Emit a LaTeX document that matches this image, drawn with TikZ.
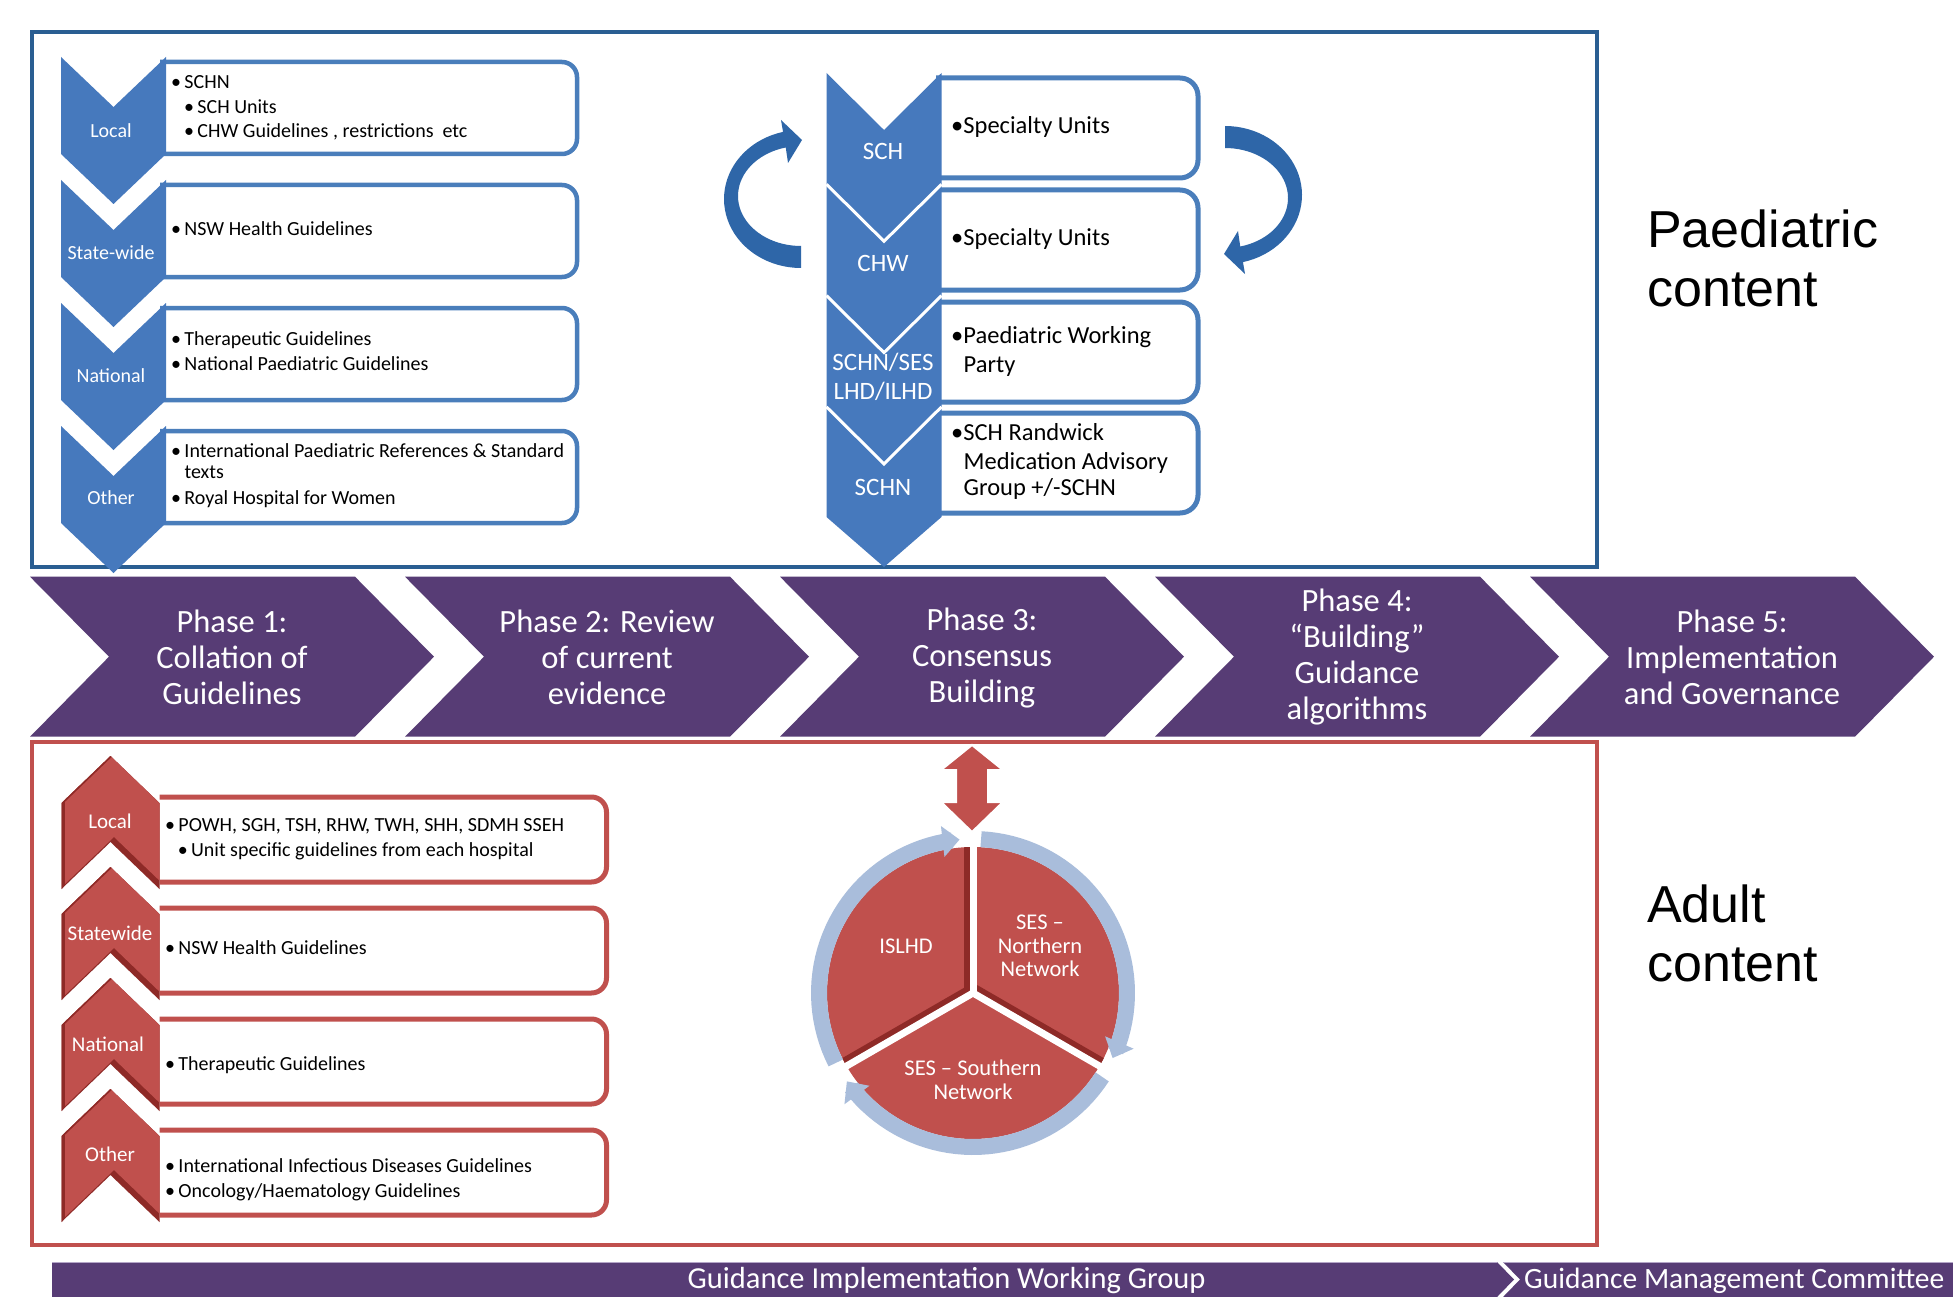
\documentclass[tikz,border=0pt]{standalone}
\usepackage{fontspec}
\setmainfont{Carlito}
\newfontfamily\arialf{Liberation Sans}
\usetikzlibrary{arrows.meta,calc}
\definecolor{chevblue}{HTML}{4679BD}
\definecolor{boxblue}{HTML}{4A7EBB}
\definecolor{frameblue}{HTML}{2A5E92}
\definecolor{arrowblue}{HTML}{2E66A8}
\definecolor{phasepurple}{HTML}{573C75}
\definecolor{adred}{HTML}{C0504D}
\definecolor{darkred}{HTML}{8E2A27}
\definecolor{ringblue}{HTML}{A9BDDB}
\definecolor{bandline}{HTML}{B4A6C8}
\newcommand\myfs[2]{\fontsize{#1}{#2}\selectfont}
\begin{document}
\begin{tikzpicture}[x=1pt,y=-1pt,
  lbox/.style={draw=boxblue,line width=4.5pt,fill=white,rounded corners=15pt},
  cbox/.style={draw=boxblue,line width=5pt,fill=white,rounded corners=18pt},
  rbox/.style={draw=adred,line width=5pt,fill=white,rounded corners=15pt},
  boxtxt/.style={anchor=base west,inner sep=0pt,font=\myfs{20}{24}},
  ctxt/.style={anchor=base west,inner sep=0pt,font=\myfs{24.5}{28}},
  chevlbl/.style={anchor=base,inner sep=0pt,text=white,font=\myfs{20}{24}},
  clbl/.style={anchor=base,inner sep=0pt,text=white,font=\myfs{25}{29}},
  rlbl/.style={anchor=base,inner sep=0pt,text=white,font=\myfs{21}{25}},
  phasetxt/.style={align=center,text=white,font=\myfs{32.5}{36},inner sep=0pt},
  cyctxt/.style={align=center,text=white,font=\myfs{22.5}{23.5},inner sep=0pt},
  bandtxt/.style={anchor=base,inner sep=0pt,text=white,font=\myfs{29.5}{34}},
  bigtxt/.style={anchor=west,align=left,inner sep=0pt,font=\arialf\myfs{52}{59}},
  ringarrow/.style={draw=ringblue,line width=16pt,-{Triangle[width=30pt,length=17pt]}},
]
\useasboundingbox[fill=white] (0,0) rectangle (1953,1297);

% ---------- frames ----------
\draw[frameblue,line width=4.5pt] (32,32) rectangle (1597,567);
\draw[adred,line width=4.5pt] (32,742) rectangle (1597,1245);

% ---------- left blue boxes and chevrons ----------
\foreach \k in {0,1,2,3}{
  \pgfmathsetmacro{\t}{62+123*\k}
  \draw[lbox] (160,\t) -- (577,\t) -- (577,{\t+92}) -- (160,{\t+92});
}
\foreach \k in {0,1,2,3}{
  \pgfmathsetmacro{\t}{57+123*\k}
  \fill[chevblue] (61,\t) -- (113.5,{\t+50}) -- (166,\t) -- (166,{\t+97}) -- (113.5,{\t+147}) -- (61,{\t+97}) -- cycle;
}
\node[chevlbl] (llocal) at (111,137.4) {Local};
\node[chevlbl] (lstate) at (111,259.4) {State-wide};
\node[chevlbl] (lnat) at (111,382.4) {National};
\node[chevlbl] (loth) at (111,504.4) {Other};

\node[boxtxt] (l1a) at (171,88.5) {•\,SCHN};
\node[boxtxt] (l1b) at (184,113.5) {•\,SCH Units};
\node[boxtxt] (l1c) at (184,137.5) {•\,CHW Guidelines , restrictions\ \ etc};
\node[boxtxt] (l2) at (171,235.5) {•\,NSW Health Guidelines};
\node[boxtxt] (l3a) at (171,345.5) {•\,Therapeutic Guidelines};
\node[boxtxt] (l3b) at (171,370.5) {•\,National Paediatric Guidelines};
\node[boxtxt] (l4a) at (171,457.5) {•\,International Paediatric References \& Standard};
\node[boxtxt] (l4b) at (184.3,478.5) {texts};
\node[boxtxt] (l4c) at (171,504.5) {•\,Royal Hospital for Women};

% ---------- centre blue column ----------
\foreach \t in {78,190,302,413}{
  \draw[cbox] (936,\t) -- (1198,\t) -- (1198,{\t+100}) -- (936,{\t+100});
}
\fill[chevblue] (826.5,73) -- (884,130) -- (941.5,73) -- (941.5,517) -- (884,567) -- (826.5,517) -- cycle;
\foreach \t in {184.3,295.6,406.9}{
  \draw[white,line width=3pt] (826.5,\t) -- (884,{\t+57}) -- (941.5,\t);
}
\node[clbl] (csch) at (883,160) {SCH};
\node[clbl] (cchw) at (883,272) {CHW};
\node[clbl] (cses) at (883,370.4) {SCHN/SES};
\node[clbl] (clhd) at (883,399) {LHD/ILHD};
\node[clbl] (cschn) at (883,495) {SCHN};

\node[ctxt] (c1) at (951,133.6) {•Specialty Units};
\node[ctxt] (c2) at (951,245.8) {•Specialty Units};
\node[ctxt] (c3a) at (951,343.8) {•Paediatric Working};
\node[ctxt] (c3b) at (963.5,372.8) {Party};
\node[ctxt] (c4a) at (951,440.8) {•SCH Randwick};
\node[ctxt] (c4b) at (963.5,469.8) {Medication Advisory};
\node[ctxt] (c4c) at (963.5,495.8) {Group +/-SCHN};

% ---------- curved blue arrows ----------
\fill[arrowblue] plot[domain=90:256.5,samples=40] ({801+77*cos(\x)},{199+69*sin(\x)})
  -- (781,120) -- (802,140) -- (788,163)
  -- plot[domain=256:90,samples=40] ({801+63*cos(\x)},{196+50*sin(\x)}) -- cycle;
\begin{scope}[shift={(2026,394)},rotate=180]
\fill[arrowblue] plot[domain=90:256.5,samples=40] ({801+77*cos(\x)},{199+69*sin(\x)})
  -- (781,120) -- (802,140) -- (788,163)
  -- plot[domain=256:90,samples=40] ({801+63*cos(\x)},{196+50*sin(\x)}) -- cycle;
\end{scope}

\node[bigtxt] (paed) at (1647,258) {Paediatric\\content};
\node[bigtxt] (adult) at (1647,933) {Adult\\content};

% ---------- phase band ----------
\foreach \k in {0,1,2,3,4}{
  \pgfmathsetmacro{\xa}{30+375*\k}
  \fill[phasepurple] (\xa,576.7) -- ({\xa+325},576.7) -- ({\xa+404},656.7) -- ({\xa+325},736.7) -- (\xa,736.7) -- ({\xa+79},656.7) -- cycle;
}
\node[phasetxt] (ph1) at (232,657) {Phase 1:\\Collation of\\Guidelines};
\node[phasetxt] (ph2) at (607,657) {Phase 2: Review\\of current\\evidence};
\node[phasetxt] (ph3) at (982,658) {Phase 3:\\Consensus\\Building};
\node[phasetxt] (ph4) at (1357,657) {Phase 4:\\“Building”\\Guidance\\algorithms};
\node[phasetxt] (ph5) at (1732,657) {Phase 5:\\Implementation\\and Governance};

% ---------- red boxes and chevrons ----------
\foreach \k in {0,1,2,3}{
  \pgfmathsetmacro{\t}{797+111*\k}
  \draw[rbox] (159.5,\t) -- (606.5,\t) -- (606.5,{\t+85}) -- (159.5,{\t+85});
}
\foreach \k in {0,1,2,3}{
  \pgfmathsetmacro{\T}{756+111*\k}
  \begin{scope}
    \clip (110.5,\T) -- (159.5,{\T+47}) -- (159.5,{\T+133}) -- (110.5,{\T+86}) -- (61.5,{\T+133}) -- (61.5,{\T+47}) -- cycle;
    \fill[darkred] (50,{\T-5}) rectangle (170,{\T+140});
    \fill[adred,shift={(3.5,-5)}] (110.5,\T) -- (159.5,{\T+47}) -- (159.5,{\T+133}) -- (110.5,{\T+86}) -- (61.5,{\T+133}) -- (61.5,{\T+47}) -- cycle;
    \draw[darkred,line width=3pt] (110.5,\T) -- (61.5,{\T+47}) -- (61.5,{\T+133});
  \end{scope}
}
\node[rlbl] (rlocal) at (110,828.7) {Local};
\node[rlbl] (rstate) at (110,940.7) {Statewide};
\node[rlbl] (rnat) at (108,1051.7) {National};
\node[rlbl] (roth) at (110,1161.7) {Other};

\node[boxtxt] (r1a) at (165,831) {•\,POWH, SGH, TSH, RHW, TWH, SHH, SDMH SSEH};
\node[boxtxt] (r1b) at (177.6,856) {•\,Unit specific guidelines from each hospital};
\node[boxtxt] (r2) at (165,954.5) {•\,NSW Health Guidelines};
\node[boxtxt] (r3) at (165,1070) {•\,Therapeutic Guidelines};
\node[boxtxt] (r4a) at (165,1172) {•\,International Infectious Diseases Guidelines};
\node[boxtxt] (r4b) at (165,1197) {•\,Oncology/Haematology Guidelines};

% ---------- cycle ----------
\coordinate (cc) at (973,993);
\fill[adred] (cc) circle[radius=146];
\begin{scope}
  \clip (cc) circle[radius=146];
  \draw[darkred,line width=6pt] ($(cc)+(-6,0)$) -- ++(270:150);
  \draw[darkred,line width=6pt] ($(cc)+(-3,-5.2)$) -- ++(150:150);
  \draw[darkred,line width=6pt] ($(cc)+(3,-5.2)$) -- ++(30:150);
\end{scope}
\draw[ringarrow] plot[domain=153:265,samples=40] ({973+154*cos(\x)},{993+154*sin(\x)});
\draw[ringarrow] plot[domain=273:385,samples=40] ({973+154*cos(\x)},{993+154*sin(\x)});
\draw[ringarrow] plot[domain=33:145,samples=40] ({973+154*cos(\x)},{993+154*sin(\x)});
\draw[white,line width=7pt] (cc) -- ++(270:160);
\draw[white,line width=7pt] (cc) -- ++(150:160);
\draw[white,line width=7pt] (cc) -- ++(30:160);
\fill[white] (cc) circle[radius=3.5];

\fill[adred,draw=white,line width=2pt] (972,745) -- (1003,770) -- (988,770) -- (988,802) -- (1003,802) -- (972,832) -- (941,802) -- (956,802) -- (956,770) -- (941,770) -- cycle;

\node[cyctxt] (islhd) at (906,946) {ISLHD};
\node[cyctxt] (north) at (1040,946) {SES –\\Northern\\Network};
\node[cyctxt] (south) at (973,1080) {SES – Southern\\Network};

% ---------- bottom band ----------
\fill[phasepurple] (52,1262) -- (1497,1262) -- (1514,1279.5) -- (1497,1297) -- (52,1297) -- cycle;
\fill[phasepurple] (1503,1262) -- (1953,1262) -- (1953,1297) -- (1503,1297) -- (1520,1279.5) -- cycle;
\draw[bandline,line width=1.5pt] (52,1262.5) -- (1497,1262.5);
\draw[bandline,line width=1.5pt] (1503,1262.5) -- (1953,1262.5);
\node[bandtxt,font=\myfs{30.5}{34}] (giwg) at (946.6,1288.4) {Guidance Implementation Working Group};
\node[bandtxt,anchor=base west] (gmc) at (1524,1288.4) {Guidance Management Committee};
\end{tikzpicture}
\end{document}
